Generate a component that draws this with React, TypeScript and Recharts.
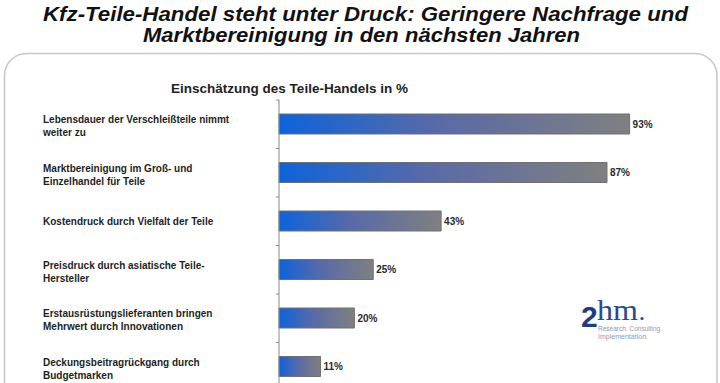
import { Bar, BarChart, LabelList, XAxis, YAxis } from "recharts";

/* ───────── data ───────── */

const categories = [
  "Lebensdauer der Verschleißteile nimmt\nweiter zu",
  "Marktbereinigung im Groß- und\nEinzelhandel für Teile",
  "Kostendruck durch Vielfalt der Teile",
  "Preisdruck durch asiatische Teile-\nHersteller",
  "Erstausrüstungslieferanten bringen\nMehrwert durch Innovationen",
  "Deckungsbeitragrückgang durch\nBudgetmarken",
];
const shares = [93, 87, 43, 25, 20, 11];

const TITLE = [
  "Kfz-Teile-Handel steht unter Druck: Geringere Nachfrage und",
  "Marktbereinigung in den nächsten Jahren",
];
const SUBTITLE = "Einschätzung des Teile-Handels  in %";

const data = categories.map((name, i) => ({ name, value: shares[i] }));

/* ───────── layout ───────── */

const W = 720;
const H = 391;
const MARGIN = { top: 100, right: 64, bottom: 0, left: 0 };
const AXIS_W = 279;
const STEP = (H - MARGIN.top - MARGIN.bottom) / categories.length;
const FONT = '"Liberation Sans", Arial, Helvetica, sans-serif';
const INK = "#1e1e1e";

function CategoryTick({ y, payload }: any) {
  const lines = String(payload.value).split("\n");
  const base = lines.length > 1 ? y - 1 : y + 3.5;
  const ax = MARGIN.left + AXIS_W;
  return (
    <g>
      <line x1={ax - 3} x2={ax} y1={y - STEP / 2} y2={y - STEP / 2} stroke="#8a8a8a" />
      <text x={43} y={base} fontFamily={FONT} fontSize={10} fontWeight="bold" fill={INK}>
        {lines.map((l, i) => (
          <tspan key={i} x={43} dy={i === 0 ? 0 : 13}>
            {l}
          </tspan>
        ))}
      </text>
    </g>
  );
}

function Backdrop() {
  return (
    <svg width={W} height={383} style={{ position: "absolute", left: 0, top: 0 }}>
      <rect x={4.5} y={53.5} width={712.5} height={400} rx={22} fill="#fff" stroke="#c6c6c6" strokeWidth={1.5} />
      <text
        x={43}
        y={21}
        fontFamily={FONT}
        fontSize={19.5}
        fontWeight="bold"
        fontStyle="italic"
        fill="#111"
        textLength={645}
        lengthAdjust="spacingAndGlyphs"
      >
        {TITLE[0]}
      </text>
      <text
        x={143}
        y={42}
        fontFamily={FONT}
        fontSize={19.5}
        fontWeight="bold"
        fontStyle="italic"
        fill="#111"
        textLength={437}
        lengthAdjust="spacingAndGlyphs"
      >
        {TITLE[1]}
      </text>
      <text
        x={171}
        y={93}
        fontFamily={FONT}
        fontSize={13}
        fontWeight="bold"
        fill="#222"
        textLength={237}
        lengthAdjust="spacingAndGlyphs"
      >
        {SUBTITLE}
      </text>
      {/* logo */}
      <text x={581} y={327} fontFamily={FONT} fontSize={30} fontWeight="bold" fill="#1d3c8c">
        2
      </text>
      <text
        x={597}
        y={320}
        fontFamily='"Liberation Serif", "DejaVu Serif", serif'
        fontSize={29}
        fill="#2b4a8e"
        textLength={41}
        lengthAdjust="spacingAndGlyphs"
      >
        hm
      </text>
      <circle cx={642} cy={318.5} r={1.6} fill="#2b4a8e" />
      <text x={598} y={331} fontFamily={FONT} fontSize={6.6} fill="#8d9ab2" textLength={64} lengthAdjust="spacingAndGlyphs">
        Research. Consulting.
      </text>
      <text x={598} y={339} fontFamily={FONT} fontSize={6.6} fill="#8d9ab2" textLength={50} lengthAdjust="spacingAndGlyphs">
        Implementation.
      </text>
    </svg>
  );
}

export default function App() {
  return (
    <div
      style={{
        position: "fixed",
        left: 0,
        top: 0,
        width: W,
        height: 383,
        overflow: "hidden",
        background: "#fff",
      }}
    >
      <Backdrop />
      <div style={{ position: "absolute", left: 0, top: 0 }}>
        <BarChart width={W} height={H} data={data} layout="vertical" margin={MARGIN}>
          <defs>
            <linearGradient id="barGrad" x1="0" y1="0" x2="1" y2="0">
              <stop offset="0%" stopColor="#0d63db" />
              <stop offset="45%" stopColor="#586aa8" />
              <stop offset="100%" stopColor="#808080" />
            </linearGradient>
          </defs>
          <XAxis type="number" domain={[0, 100]} hide />
          <YAxis
            type="category"
            dataKey="name"
            width={AXIS_W}
            tickLine={false}
            axisLine={{ stroke: "#8a8a8a" }}
            tick={<CategoryTick />}
            interval={0}
          />
          <Bar
            dataKey="value"
            fill="url(#barGrad)"
            stroke="#707070"
            strokeWidth={1}
            barSize={20}
            isAnimationActive={false}
          >
            <LabelList
              dataKey="value"
              position="right"
              offset={3}
              formatter={(v: any) => `${v}%`}
              style={{ fontFamily: FONT, fontSize: 10, fontWeight: "bold", fill: "#2a2a2a" }}
            />
          </Bar>
        </BarChart>
      </div>
    </div>
  );
}
